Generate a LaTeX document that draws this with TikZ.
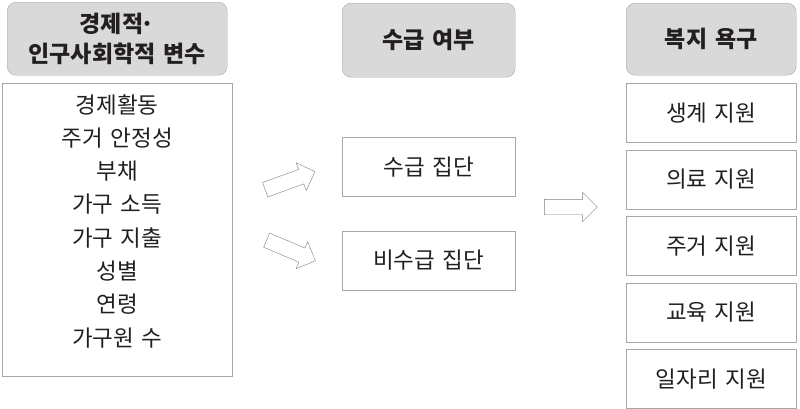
\documentclass[tikz,border=0pt]{standalone}
\usepackage{fontspec}
\setmainfont[WordSpace=1.5]{Noto Sans CJK KR}
\usetikzlibrary{positioning,shapes.arrows}
\definecolor{boxgray}{HTML}{A8A8A8}
\definecolor{headfill}{HTML}{D9D9D9}
\definecolor{arrowgray}{HTML}{808080}
\definecolor{inktext}{HTML}{231F20}

\begin{document}
\begin{tikzpicture}[
  x=1pt, y=-1pt,
  node distance=7pt,
  head/.style={draw=boxgray, fill=headfill, rounded corners=9pt, inner sep=0pt, align=center, text=inktext, font=\fontsize{23}{30}\selectfont\bfseries},
  item/.style={draw=boxgray, fill=white, inner sep=0pt, align=center, text=inktext, font=\fontsize{22.5}{33}\selectfont},
  flow/.style={single arrow, draw=arrowgray, fill=white, inner xsep=0pt, inner ysep=7.5pt, minimum height=53pt, single arrow head extend=7pt},
]
  \useasboundingbox (0,0) rectangle (800,408);

  % variables
  \node[head, anchor=north west, minimum width=220pt, minimum height=73pt] (varhead) at (7,2) {경제적\hspace{-0.12em}·\\인구사회학적 변수};
  \node[item, minimum width=230pt, minimum height=293pt, below=8pt of varhead] (varbox) {};
  \node[font=\fontsize{22.5}{33.3}\selectfont, align=center, text=inktext] (varlist) at ([yshift=9pt]varbox.center) {
    경제활동\\주거 안정성\\부채\\가구 소득\\가구 지출\\성별\\연령\\가구원 수
  };

  % recipients
  \node[head, anchor=north west, minimum width=173pt, minimum height=74pt] (recvhead) at (342,3) {수급 여부};
  \node[item, minimum width=173pt, minimum height=59pt, below=60pt of recvhead] (recv) {수급 집단};
  \node[item, minimum width=173pt, minimum height=59pt, below=34pt of recv] (nonrecv) {비수급 집단};

  % needs
  \node[head, anchor=north west, minimum width=170pt, minimum height=72pt] (needhead) at (626,3) {복지 욕구};
  \node[item, minimum width=170pt, minimum height=59pt, below=8pt of needhead] (need1) {생계 지원};
  \node[item, minimum width=170pt, minimum height=59pt, below=of need1] (need2) {의료 지원};
  \node[item, minimum width=170pt, minimum height=59pt, below=of need2] (need3) {주거 지원};
  \node[item, minimum width=170pt, minimum height=59pt, below=of need3] (need4) {교육 지원};
  \node[item, minimum width=170pt, minimum height=59pt, below=of need4] (need5) {일자리 지원};

  % block arrows
  \node[flow, rotate=20] (upflow) at (286.5,182) {};
  \node[flow, rotate=-23] (downflow) at (287.5,249) {};
  \node[flow] (needflow) at (567,207) {};
\end{tikzpicture}
\end{document}
